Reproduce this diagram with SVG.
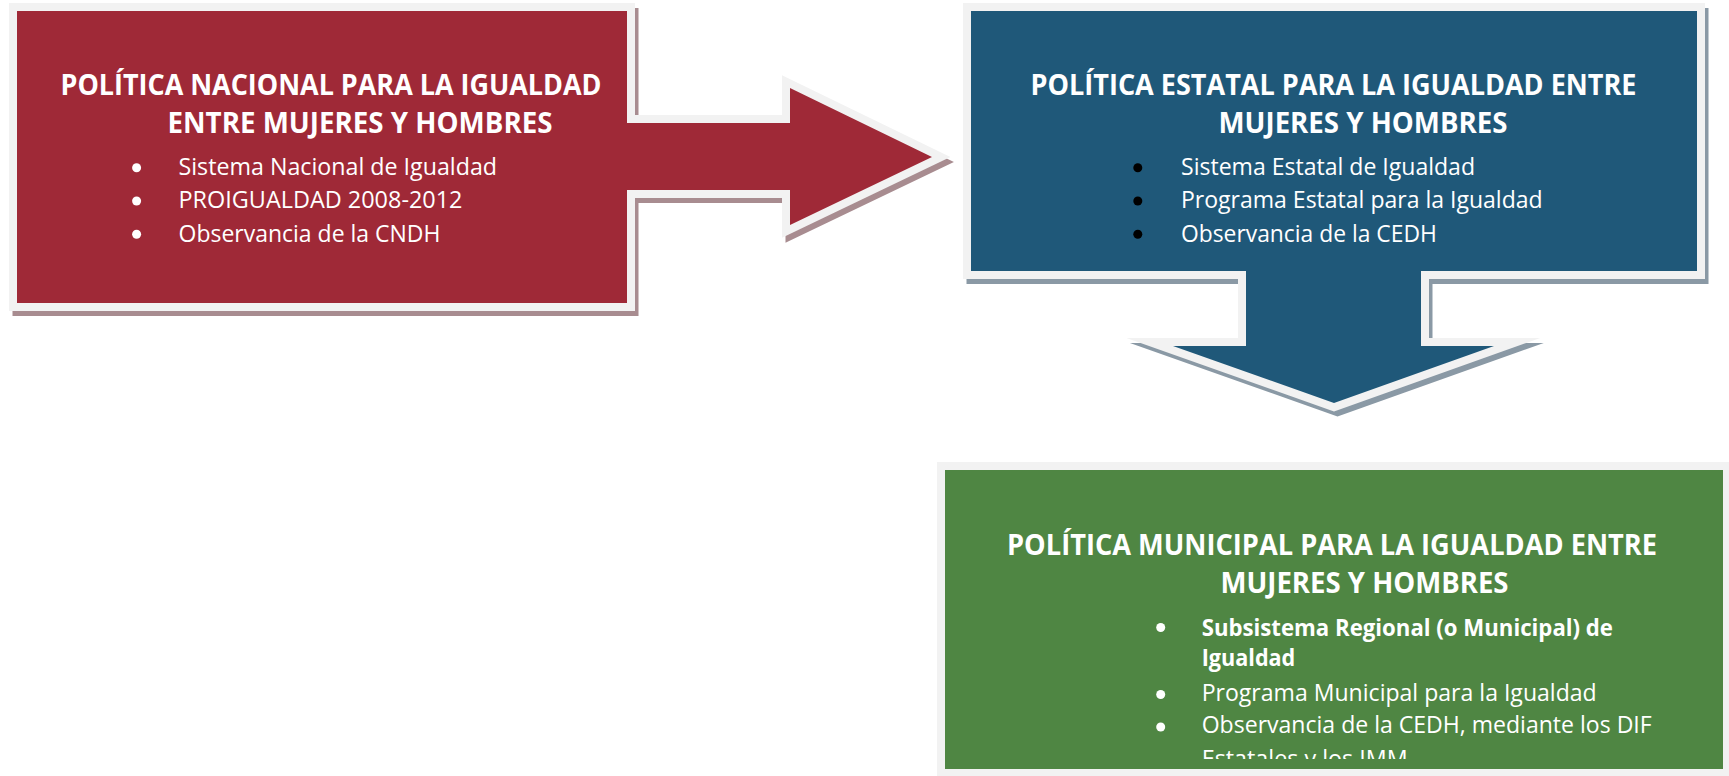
<svg xmlns="http://www.w3.org/2000/svg" width="1729" height="776" viewBox="0 0 1729 776">
<style>
.frame{fill:#f2f2f2;stroke:#f2f2f2;stroke-width:16;stroke-linejoin:miter;stroke-miterlimit:10}
.shadowR{fill:#a88c90;stroke:#a88c90;stroke-width:16;stroke-linejoin:miter;stroke-miterlimit:10}
.shadowB{fill:#8a99a5;stroke:#8a99a5;stroke-width:16;stroke-linejoin:miter;stroke-miterlimit:10}
.title{font-family:"Open Sans","Liberation Sans",sans-serif;font-weight:bold;font-size:28px;fill:#ffffff}
.item{font-family:"Open Sans","Liberation Sans",sans-serif;font-size:23px;fill:#ffffff}
.bold{font-weight:bold}
.bw{fill:#ffffff}
.bk{fill:#000000}
</style>
<defs>
<polygon id="redShape" points="17,11 627,11 627,123 790,123 790,88 932,157 790,225 790,190 627,190 627,303 17,303"/>
<polygon id="blueShape" points="971,11 1697,11 1697,271 1421,271 1421,346 1494,346 1334,403 1173,346 1246,346 1246,271 971,271"/>
<clipPath id="greenClip"><rect x="945" y="470" width="778" height="289"/></clipPath>
</defs>

<g id="nacional">
<use href="#redShape" class="shadowR" transform="translate(3.5,5)"/>
<use href="#redShape" class="frame"/>
<use href="#redShape" fill="#9f2937"/>
<text class="title" x="60.5" y="94.5" textLength="541" lengthAdjust="spacingAndGlyphs">POLÍTICA NACIONAL PARA LA IGUALDAD</text>
<text class="title" x="167.5" y="133.3" textLength="385" lengthAdjust="spacingAndGlyphs">ENTRE MUJERES Y HOMBRES</text>
<circle class="bw" cx="136.6" cy="167.7" r="4.5"/>
<circle class="bw" cx="136.6" cy="201" r="4.5"/>
<circle class="bw" cx="136.6" cy="234.3" r="4.5"/>
<text class="item" x="178.5" y="175" textLength="318.5" lengthAdjust="spacingAndGlyphs">Sistema Nacional de Igualdad</text>
<text class="item" x="178.5" y="208.3" textLength="284" lengthAdjust="spacingAndGlyphs">PROIGUALDAD 2008-2012</text>
<text class="item" x="178.5" y="241.7" textLength="262" lengthAdjust="spacingAndGlyphs">Observancia de la CNDH</text>
</g>

<g id="estatal">
<use href="#blueShape" class="shadowB" transform="translate(3.5,5)"/>
<use href="#blueShape" class="frame"/>
<use href="#blueShape" fill="#1f5879"/>
<text class="title" x="1030.5" y="95" textLength="606" lengthAdjust="spacingAndGlyphs">POLÍTICA ESTATAL PARA LA IGUALDAD ENTRE</text>
<text class="title" x="1218.5" y="133.3" textLength="289" lengthAdjust="spacingAndGlyphs">MUJERES Y HOMBRES</text>
<circle class="bk" cx="1137.8" cy="167.7" r="4.5"/>
<circle class="bk" cx="1137.8" cy="201" r="4.5"/>
<circle class="bk" cx="1137.8" cy="234.3" r="4.5"/>
<text class="item" x="1181" y="175" textLength="294" lengthAdjust="spacingAndGlyphs">Sistema Estatal de Igualdad</text>
<text class="item" x="1181" y="208.3" textLength="361.6" lengthAdjust="spacingAndGlyphs">Programa Estatal para la Igualdad</text>
<text class="item" x="1181" y="241.7" textLength="255.8" lengthAdjust="spacingAndGlyphs">Observancia de la CEDH</text>
</g>

<g id="municipal">
<rect x="945" y="470" width="778" height="299" class="frame"/>
<rect x="945" y="470" width="778" height="299" fill="#4f8643"/>
<text class="title" x="1007" y="555" textLength="650" lengthAdjust="spacingAndGlyphs">POLÍTICA MUNICIPAL PARA LA IGUALDAD ENTRE</text>
<text class="title" x="1220.5" y="592.7" textLength="288" lengthAdjust="spacingAndGlyphs">MUJERES Y HOMBRES</text>
<g clip-path="url(#greenClip)">
<circle class="bw" cx="1160.7" cy="627.5" r="4.5"/>
<circle class="bw" cx="1160.7" cy="694.5" r="4.5"/>
<circle class="bw" cx="1160.7" cy="727" r="4.5"/>
<text class="item bold" x="1201.7" y="635.7" textLength="411.3" lengthAdjust="spacingAndGlyphs">Subsistema Regional (o Municipal) de</text>
<text class="item bold" x="1201.7" y="666" textLength="93.6" lengthAdjust="spacingAndGlyphs">Igualdad</text>
<text class="item" x="1201.7" y="701" textLength="395" lengthAdjust="spacingAndGlyphs">Programa Municipal para la Igualdad</text>
<text class="item" x="1201.7" y="733.3" textLength="450" lengthAdjust="spacingAndGlyphs">Observancia de la CEDH, mediante los DIF</text>
<text class="item" x="1201.7" y="767" textLength="206" lengthAdjust="spacingAndGlyphs">Estatales y los IMM</text>
</g>
</g>

<g id="connectors"></g>
</svg>
